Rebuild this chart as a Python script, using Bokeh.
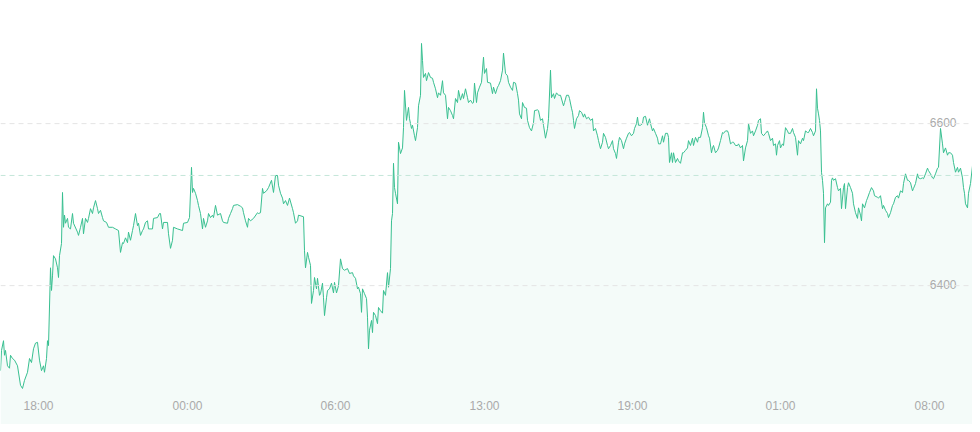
from bokeh.plotting import figure
from bokeh.models import Range1d, Span, ColumnDataSource
from bokeh.core.properties import value
from bokeh.embed import file_html
from bokeh.resources import INLINE

# sample position (index along the time axis) and price
idx = [0, 1, 3, 4, 5, 7, 9, 10, 12, 14, 17, 20, 22, 24, 27, 29, 31, 33, 35, 37, 39, 41, 43, 44, 46, 47, 48,
       50, 51, 52, 53, 55, 57, 58, 59, 61, 62, 63, 64, 65, 67, 68, 70, 72, 73, 77, 78, 80, 82, 83, 85, 87, 88,
       90, 92, 93, 95, 97, 98, 100, 102, 103, 106, 108, 112, 115, 118, 120, 122, 123, 125, 127, 128, 130, 132,
       133, 135, 137, 138, 140, 142, 143, 145, 147, 148, 152, 153, 157, 159, 160, 162, 163,
       167, 168, 170, 172, 173, 177, 182, 183, 187, 189, 191, 192, 193, 195, 197, 198, 200, 202, 203, 205, 207,
       208, 210, 212, 213, 215, 217, 220, 222, 223, 227, 228, 230, 232, 233, 237, 240, 242, 243, 245, 247, 248,
       250, 253, 257, 258, 260, 262, 263, 266, 268, 271, 273, 275, 277, 278, 280, 282, 283, 285, 287, 289, 292,
       293, 295, 297, 298, 303, 304, 305, 307, 308, 310, 311, 313, 314, 316, 317, 319, 320, 322, 323, 324, 326,
       327, 329, 331, 333, 334, 336, 338, 340, 342, 344, 347, 349, 352, 353, 355, 357, 358, 360, 361, 362, 364,
       366, 367, 368, 369, 371, 372, 373, 375, 377, 378, 380, 382, 383, 385, 387, 388, 390, 391, 392, 393, 394,
       395, 397, 398, 400, 402, 403, 404, 406, 407, 408, 409, 411, 412, 414, 415, 417, 418, 420, 421, 422, 423,
       425, 426, 428, 430, 432, 433, 435, 437, 438, 440, 442, 443, 445, 447, 448, 450, 452, 453, 455, 457, 458,
       460, 462, 463, 465, 467, 468, 470, 472, 473, 474, 476, 477, 479, 481, 483, 484, 486, 487, 490, 492, 493,
       495, 497, 498, 500, 502, 503, 505, 507, 508, 510, 512, 513, 515, 517, 518, 519, 521, 522, 524, 526, 527,
       529, 531, 533, 534, 537, 538, 540, 542, 543, 545, 547, 548, 550, 551, 553, 554, 556, 558, 560, 563, 564,
       566, 568, 569, 571, 572, 573, 574, 576, 578, 579, 581, 583, 584, 586, 588, 590, 592, 593, 595, 597, 598,
       600, 602, 603, 605, 607, 608, 610, 612, 613, 615, 616, 618, 619, 621, 623, 624, 626, 628, 629, 631, 633,
       634, 636, 637, 638, 640, 642, 643, 645, 647, 649, 650, 652, 653, 655, 657, 658, 660, 662, 663, 665, 667,
       668, 669, 671, 672, 673, 675, 677, 678, 680, 682, 683, 685, 687, 688, 690, 692, 693, 695, 697, 698, 700,
       702, 703, 704, 706, 708, 709, 711, 712, 713, 715, 717, 718, 720, 722, 723, 725, 727, 728, 730, 732, 733,
       735, 737, 738, 740, 742, 743, 745, 747, 748, 750, 752, 753, 755, 757, 758, 760, 761, 763, 765, 767, 768,
       770, 772, 773, 775, 776, 777, 779, 780, 782, 783, 785, 787, 788, 790, 792, 793, 795, 797, 798, 800, 802,
       803, 805, 807, 808, 810, 812, 813, 815, 816, 817, 818, 819, 820, 821, 822, 823, 824, 825, 827, 828, 830,
       831, 832, 833, 835, 837, 838, 840, 841, 843, 844, 845, 847, 848, 850, 852, 853, 855, 857, 858, 860, 861,
       862, 864, 866, 867, 869, 871, 873, 874, 877, 878, 880, 882, 883, 885, 887, 888, 890, 892, 893, 895, 897,
       898, 900, 902, 903, 905, 907, 908, 910, 912, 913, 915, 917, 918, 920, 922, 923, 925, 927, 928, 930, 932,
       933, 935, 937, 938, 940, 942, 943, 945, 947, 948, 950, 952, 953, 955, 957, 958, 960, 962, 963, 964, 965,
       967, 968, 970, 972, 973, 975, 977, 980]

price = [6295, 6320, 6332, 6314, 6320, 6301, 6298, 6314, 6310, 6308, 6301, 6277, 6273, 6283, 6293, 6310, 6305,
         6322, 6329, 6330, 6308, 6295, 6301, 6293, 6310, 6332, 6326,
         6422, 6394, 6412, 6437, 6433, 6422, 6410, 6437, 6452, 6515, 6472, 6487, 6477, 6483, 6472, 6470, 6489,
         6477, 6466, 6462, 6472, 6483, 6464, 6483, 6478, 6483,
         6495, 6489, 6496, 6505, 6495, 6489, 6493, 6484, 6480, 6478, 6472, 6472, 6470, 6468, 6441, 6453, 6452,
         6459, 6453, 6466, 6456, 6468,
         6474, 6489, 6474, 6477, 6462, 6468, 6470, 6478, 6480, 6470, 6470, 6483, 6484, 6489, 6489, 6470, 6478,
         6478, 6464, 6446, 6456, 6472, 6470, 6468, 6477, 6478, 6484, 6546, 6515, 6520, 6514, 6505, 6499, 6489,
         6470, 6483, 6472, 6480,
         6489, 6484, 6487, 6484, 6499, 6487, 6489, 6480, 6478, 6477, 6483, 6489, 6495, 6499, 6500, 6498, 6496,
         6490, 6480, 6472, 6483,
         6480, 6483, 6490, 6489, 6490, 6520, 6514, 6517, 6521, 6530, 6515, 6536, 6536, 6524, 6514, 6508, 6501,
         6505, 6499, 6508, 6495,
         6490, 6477, 6480, 6487, 6485, 6443, 6422, 6441, 6435, 6425, 6378, 6394, 6410, 6396, 6409, 6388, 6390,
         6403, 6385, 6363, 6385,
         6394, 6396, 6403, 6391, 6404, 6391, 6400, 6433, 6421, 6419, 6421, 6415, 6416, 6412, 6409, 6396, 6398,
         6390, 6367, 6396, 6390,
         6384, 6361, 6322, 6345, 6357, 6342, 6367, 6363, 6353, 6373, 6369, 6366, 6394, 6388, 6416, 6398, 6421,
         6480, 6489, 6551, 6521,
         6514, 6501, 6577, 6563, 6570, 6595, 6641, 6604, 6612, 6620, 6606, 6594, 6598, 6585, 6579, 6595, 6622,
         6635, 6699, 6678, 6657,
         6662, 6653, 6663, 6657, 6656, 6651, 6643, 6632, 6638, 6635, 6653, 6638, 6635, 6606, 6620, 6616, 6610,
         6606, 6631, 6626, 6641,
         6629, 6637, 6631, 6643, 6632, 6626, 6629, 6625, 6626, 6650, 6626, 6638, 6645, 6651, 6682, 6662, 6668,
         6651, 6650, 6637, 6645,
         6637, 6645, 6647, 6653, 6666, 6687, 6662, 6659, 6651, 6645, 6641, 6651, 6650, 6637, 6629, 6612, 6606,
         6626, 6620, 6619, 6604,
         6595, 6591, 6601, 6616, 6617, 6616, 6604, 6606, 6598, 6582, 6594, 6606, 6666, 6632, 6637, 6631, 6638,
         6635, 6635, 6622, 6626,
         6635, 6635, 6631, 6619, 6614, 6604, 6594, 6606, 6610, 6616, 6614, 6608, 6612, 6606, 6608, 6604, 6606,
         6591, 6594, 6585, 6579,
         6569, 6577, 6588, 6583, 6573, 6569, 6573, 6579, 6569, 6563, 6557, 6577, 6583, 6579, 6569, 6575, 6582,
         6588, 6589, 6585, 6588,
         6594, 6600, 6608, 6598, 6598, 6600, 6608, 6609, 6598, 6606, 6600, 6591, 6594, 6588, 6582, 6575, 6575,
         6585, 6577, 6588, 6588,
         6583, 6552, 6564, 6552, 6564, 6552, 6557, 6554, 6551, 6564, 6564, 6567, 6570, 6579, 6573, 6582, 6573,
         6583, 6577, 6583, 6583,
         6595, 6614, 6601, 6595, 6585, 6582, 6564, 6570, 6573, 6564, 6567, 6570, 6579, 6589, 6588, 6591, 6591,
         6588, 6575, 6577, 6577,
         6573, 6573, 6575, 6570, 6573, 6554, 6570, 6579, 6600, 6588, 6591, 6585, 6591, 6598, 6604, 6606, 6588,
         6585, 6588, 6591, 6588,
         6579, 6582, 6573, 6575, 6561, 6573, 6579, 6570, 6575, 6573, 6595, 6591, 6588, 6588, 6594, 6589, 6583,
         6561, 6579, 6575, 6582,
         6579, 6591, 6589, 6589, 6594, 6589, 6585, 6591, 6643, 6619, 6612, 6604, 6591, 6540, 6530, 6514, 6453,
         6496, 6501, 6499, 6503,
         6530, 6533, 6530, 6532, 6521, 6517, 6520, 6495, 6521, 6526, 6495, 6521, 6527, 6521, 6514, 6501, 6490,
         6483, 6496, 6487, 6480,
         6501, 6496, 6505, 6508, 6515, 6521, 6517, 6511, 6509, 6508, 6511, 6495, 6499, 6493, 6489, 6484, 6490,
         6499, 6501, 6509, 6511,
         6508, 6517, 6515, 6526, 6538, 6530, 6530, 6527, 6517, 6520, 6526, 6538, 6533, 6532, 6533, 6532, 6538,
         6545, 6542, 6538, 6533,
         6532, 6538, 6545, 6546, 6594, 6575, 6564, 6570, 6561, 6564, 6564, 6561, 6552, 6540, 6546, 6540, 6545,
         6533, 6521, 6514, 6501,
         6496, 6514, 6526, 6548, 6542, 6532, 6536, 6536]

x_tick_pos = [38, 187, 335, 484, 632, 780, 929]
x_tick_labels = ["18:00", "00:00", "06:00", "13:00", "19:00", "01:00", "08:00"]
y_ticks = [6400, 6600]
y_tick_labels = ["6400", "6600"]

n = min(len(idx), len(price))
idx = idx[:n]
price = price[:n]

W, H = 972, 424
Y_HI = 6752.0
Y_LO = Y_HI - 1.2346 * H
p = figure(width=W, height=H, output_backend="svg", toolbar_location=None,
           x_range=Range1d(0, W), y_range=Range1d(Y_LO, Y_HI),
           min_border=0, min_border_left=0, min_border_right=0,
           min_border_top=0, min_border_bottom=0)
p.xaxis.visible = False
p.yaxis.visible = False
p.xgrid.visible = False
p.ygrid.visible = False
p.outline_line_color = None
p.background_fill_color = "white"
p.border_fill_color = "white"

src = ColumnDataSource(dict(x=idx, y=price, base=[6100] * n))
p.varea(x="x", y1="base", y2="y", source=src, fill_color="#3cbf92", fill_alpha=0.055)

for t in y_ticks:
    p.add_layout(Span(location=t, dimension="width", line_color="#e4e4e4",
                      line_width=1, line_dash="5 4"))
p.add_layout(Span(location=price[-1], dimension="width", line_color="#c4e6d9",
                  line_width=1, line_dash="5 4"))

p.line(x="x", y="y", source=src, line_color="#38bf90", line_width=1)

p.text(x=[956] * len(y_ticks), y=y_ticks, text=y_tick_labels,
       text_align="right", text_baseline="alphabetic", y_offset=-1,
       text_font=value("Liberation Sans"), text_font_size="12px", text_color="#aaaaaa")

label_y = Y_HI - 1.2346 * 405
p.text(x=x_tick_pos, y=[label_y] * len(x_tick_pos), text=x_tick_labels,
       text_align="center", text_baseline="middle",
       text_font=value("Liberation Sans"), text_font_size="12px", text_color="#aaaaaa")

open("out.html", "w").write(file_html(p, INLINE))
